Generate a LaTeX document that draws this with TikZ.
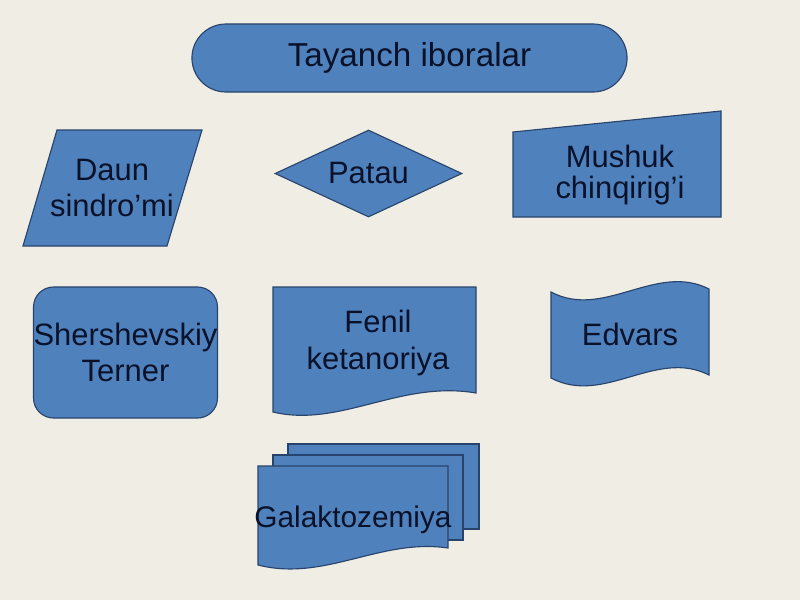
\documentclass[tikz,border=0pt]{standalone}
\usepackage{fontspec}
\setmainfont{Liberation Sans}
\usepackage{xcolor}
\usetikzlibrary{shapes.geometric, shapes.misc, positioning}
\definecolor{bgcol}{RGB}{240,237,228}
\definecolor{boxfill}{RGB}{79,129,189}
\definecolor{boxline}{RGB}{40,68,108}
\definecolor{txtcol}{RGB}{10,18,42}
\tikzstyle{blok} = [fill=boxfill, draw=boxline, line width=0.8pt]
\tikzstyle{matn} = [text=txtcol, font=\fontsize{22}{26}\selectfont, align=center, inner sep=0pt]
\tikzstyle{terminal} = [rounded rectangle, blok, matn, minimum width=10.875cm, minimum height=1.7cm]
\tikzstyle{decision} = [diamond, aspect=2.15, blok, matn, minimum width=4.675cm, minimum height=2.175cm]
\tikzstyle{altproc} = [rectangle, rounded corners=0.5cm, blok, matn, minimum width=4.575cm, minimum height=3.275cm]

\begin{document}
\begin{tikzpicture}[x=0.025cm, y=-0.025cm]
\fill[bgcol] (0,0) rectangle (800,600);
\useasboundingbox (0,0) rectangle (800,600);

\node (tayanch) [terminal, font=\fontsize{23.6}{26}\selectfont] at (409.5,58) {Tayanch iboralar};
\node (patau) [decision] at (368.5,173.5) {Patau};
\node (terner) [altproc] at (125.5,352.5) {Shershevskiy\\Terner};

% parallelogram
\path[blok] (57,130) -- (202,130) -- (167,246) -- (23,246) -- cycle;
\node (daun) [matn] at (112,188) {Daun\\sindro’mi};

% manual input
\path[blok] (513,132) -- (721,111) -- (721,217) -- (513,217) -- cycle;
\node (mushuk) [matn, font=\fontsize{22}{22}\selectfont] at (620,175) {Mushuk\\chinqirig’i};

% document
\path[blok] (273,287) -- (476,287) -- (476,393) .. controls (400,380) and (340,428) .. (273,412) -- cycle;
\node (fenil) [matn] at (378,343) {Fenil\\ketanoriya};

% wave
\path[blok] (551,292) .. controls (604,320) and (656,262) .. (709,289) -- (709,375) .. controls (656,348) and (604,406) .. (551,378) -- cycle;
\node (edvars) [matn] at (630,334) {Edvars};

% multidocument
\path[blok] (288,444) rectangle (479,529);
\path[blok] (273,455) rectangle (463,540);
\path[blok] (258,466) -- (448,466) -- (448,548) .. controls (380,538) and (325,582) .. (258,565) -- cycle;
\node (galakto) [matn, font=\fontsize{21.2}{26}\selectfont] at (353,520) {Galaktozemiya};
\end{tikzpicture}
\end{document}
